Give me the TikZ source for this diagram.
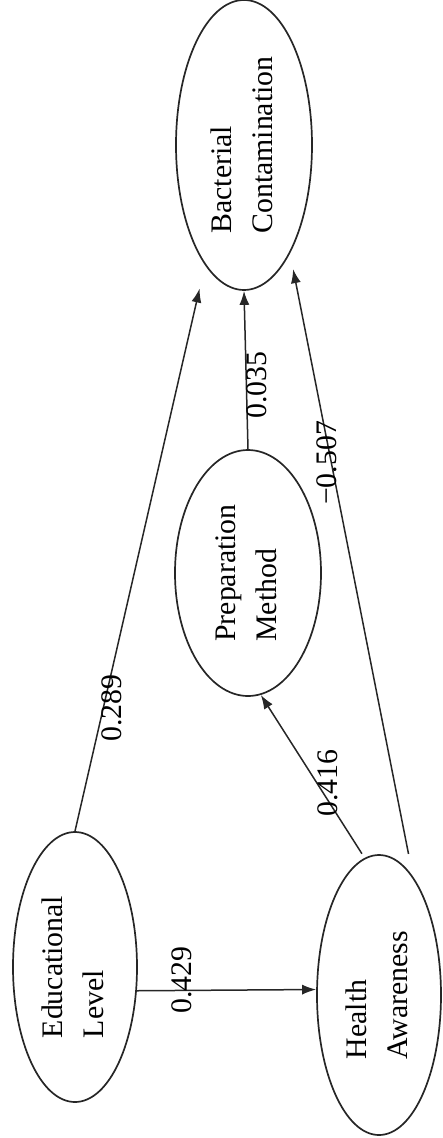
\documentclass[tikz,border=0pt]{standalone}
\usepackage{fontspec}
\setmainfont{Liberation Serif}
\usepackage{graphicx}
\usetikzlibrary{shapes.geometric,arrows.meta}
\newcommand\vlab[1]{\rotatebox{90}{\begin{tabular}{@{}l@{}}#1\end{tabular}}}
\begin{document}
\begin{tikzpicture}[x=1pt,y=-1pt,
  var/.style={draw=black!85, ellipse, line width=1.7pt, inner sep=0pt,
    font=\fontsize{29.8}{40.5}\selectfont},
  conn/.style={draw=black!85, line width=1.5pt, -{Latex[length=14pt,width=10pt]}},
  lbl/.style={rotate=90, inner sep=0pt, font=\fontsize{29.8}{36}\selectfont}
]
\useasboundingbox (0,0) rectangle (442,1138);

\node[var, minimum width=136pt, minimum height=290pt] (BC) at (244,145) {\vlab{Bacterial\\Contamination}};
\node[var, minimum width=146pt, minimum height=246pt] (PM) at (248,573) {\vlab{Preparation\\Method}};
\node[var, minimum width=124pt, minimum height=270pt] (EL) at (75,967) {\vlab{Educational\\Level}};
\node[var, minimum width=124pt, minimum height=280pt] (HA) at (379,995) {\vlab{Health\\Awareness}};

\draw[conn, shorten >=24pt] (EL.north) -- (BC.252.8);
\draw[conn] (PM.north) -- (BC.south);
\draw[conn, shorten <=23pt, shorten >=16pt] (HA.74.8) -- (BC.293.2);
\draw[conn, shorten <=5pt] (HA.96.8) -- (PM.276.8);
\draw[conn] (EL.339.4) -- (HA.175.4);

\node[lbl] (l289) at (112,708) {0.289};
\node[lbl] (l035) at (257,385) {0.035};
\node[lbl] (l507) at (327,463) {−0.507};
\node[lbl] (l416) at (328,783) {0.416};
\node[lbl] (l429) at (182,980) {0.429};
\end{tikzpicture}
\end{document}
